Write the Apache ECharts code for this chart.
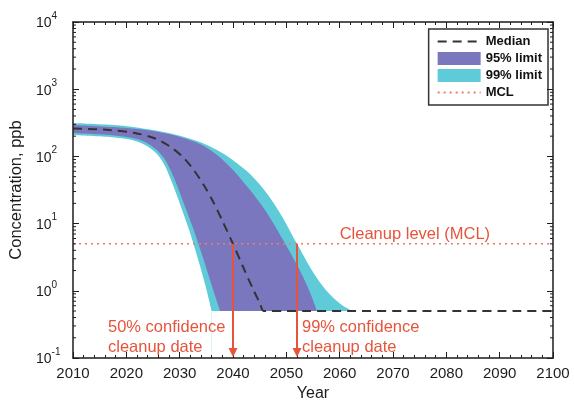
<!DOCTYPE html>
<html>
<head>
<meta charset="utf-8">
<script src="https://cdn.jsdelivr.net/npm/echarts@6/dist/echarts.min.js"></script>
<style>
  html, body { margin: 0; padding: 0; background: #ffffff; }
  #chart { width: 574px; height: 401px; }
</style>
</head>
<body>
<div id="chart"></div>
<script>
// Forecast of groundwater concentration (ppb, log scale) with uncertainty bands.

// Median forecast
const medianYears = [2010, 2016.9, 2021.6, 2025.4, 2028.2, 2030.6, 2032.5, 2034.4, 2036.3, 2038.1, 2040, 2041.9, 2043.75, 2045.1, 2045.8, 2100];
const medianPpb   = [260, 247, 223, 185, 140, 98, 65, 38.8, 21, 10.6, 5.0, 2.26, 1.06, 0.64, 0.5, 0.5];

// 99% band, upper and lower edges
const upper99Years = [2010, 2018.8, 2024.4, 2029.1, 2033.8, 2037, 2040, 2043.2, 2046, 2048.8, 2052, 2055, 2057.4, 2060.1, 2062.3];
const upper99Ppb   = [314, 288, 251, 212, 164, 124, 88, 54.7, 30.5, 14.4, 5.0, 1.9, 1.03, 0.64, 0.5];
const lower99Years = [2010, 2016.9, 2020.7, 2023.5, 2025.75, 2027.25, 2028.75, 2030.25, 2031.9, 2033.6, 2034.9, 2036];
const lower99Ppb   = [208, 194, 178, 148, 109, 72, 37.5, 17.7, 7.5, 2.68, 1.14, 0.5];

// 95% band, upper and lower edges
const upper95Years = [2010, 2018.8, 2024.4, 2029.1, 2033.8, 2037, 2040, 2043.2, 2046, 2049.4, 2052.6, 2054.4, 2055.75];
const upper95Ppb   = [293, 269, 243, 205, 153, 105, 63, 31.6, 15.9, 5.7, 1.97, 0.96, 0.5];
const lower95Years = [2010, 2016.9, 2020.7, 2023.5, 2025.75, 2027.4, 2029.1, 2030.75, 2032.5, 2034.4, 2036.1, 2037.6];
const lower95Ppb   = [223, 208, 191, 164, 124, 85.4, 44.6, 20.3, 8.6, 3.08, 1.14, 0.5];

// Cleanup level, reporting floor and annotated cleanup dates
const mclPpb = 5;
const mclYears = [2010, 2100];
const floorPpb = 0.5;
const cleanupYears = [2040, 2052];
const cleanupNotes = ['50% confidence\ncleanup date', '99% confidence\ncleanup date'];
const mclNote = 'Cleanup level (MCL)';
const mclNoteYear = 2060;

// Axis ranges
const yearMin = 2010, yearMax = 2100, yearStep = 10;
const ppbMin = 0.1, ppbMax = 10000;

function pairs(xs, ys) { return xs.map((x, i) => [x, ys[i]]); }

const FONT = '"Liberation Sans", Arial, Helvetica, sans-serif';
const INK = '#1c1c1c';
const PURPLE = '#7a77bf';
const CYAN = '#5fcbd8';
const RED = '#e6543c';
const MCL_COLOR = '#ef7c60';
const NOTE_FONT = '16.5px ' + FONT;

// minor log ticks at 2..9 x 10^k
const minorTickPpb = [];
for (let k = -1; k < 4; k++) {
  for (let m = 2; m < 10; m++) minorTickPpb.push(m * Math.pow(10, k));
}

const chart = echarts.init(document.getElementById('chart'), null, { renderer: 'canvas' });

const frameLine = { show: true, lineStyle: { color: INK, width: 1.5 } };

function yearAxis(pos) {
  const bottom = pos === 'bottom';
  return {
    type: 'value', position: pos, min: yearMin, max: yearMax, interval: yearStep, z: 10,
    axisLine: frameLine,
    axisTick: { show: true, inside: true, length: 6, lineStyle: { color: INK, width: 1 } },
    minorTick: { show: true, splitNumber: 5, length: 3, lineStyle: { color: INK, width: 1 } },
    splitLine: { show: false }, minorSplitLine: { show: false },
    axisLabel: { show: bottom, fontSize: 15, color: INK, margin: 8, fontFamily: FONT, formatter: v => String(v) },
    name: bottom ? 'Year' : '', nameLocation: 'middle', nameGap: 28,
    nameTextStyle: { fontSize: 16, color: INK, fontFamily: FONT }
  };
}

function ppbAxis(pos) {
  const left = pos === 'left';
  return {
    type: 'log', logBase: 10, position: pos, min: ppbMin, max: ppbMax, z: 10,
    axisLine: frameLine,
    axisTick: { show: true, inside: true, length: 6, lineStyle: { color: INK, width: 1 } },
    splitLine: { show: false },
    axisLabel: {
      show: left, margin: 37, align: 'left', color: INK, fontFamily: FONT,
      formatter: v => '{b|10}{s|' + Math.round(Math.log10(v)) + '}',
      rich: {
        b: { fontSize: 14, lineHeight: 24, color: INK, fontFamily: FONT, verticalAlign: 'middle', padding: [3, 0, 0, 0] },
        s: { fontSize: 10, lineHeight: 10, color: INK, fontFamily: FONT, verticalAlign: 'top', padding: [1, 0, 0, 0] }
      }
    },
    name: left ? 'Concentration, ppb' : '', nameLocation: 'middle', nameGap: 45,
    nameTextStyle: { fontSize: 16.5, color: INK, fontFamily: FONT }
  };
}

function areaEdge(name, data, fill, z, smooth) {
  return {
    name, type: 'line', data, z,
    color: fill, smooth, symbol: 'none', silent: true,
    lineStyle: { width: 0, color: fill },
    itemStyle: { color: fill },
    areaStyle: { color: fill, opacity: 1, origin: 'start' }
  };
}

const floorStart = lower99Years[lower99Years.length - 1];

const option = {
  animation: false,
  backgroundColor: '#ffffff',
  textStyle: { fontFamily: FONT },
  grid: { left: 73, right: 21, top: 22, bottom: 43, outerBoundsMode: 'none', containLabel: false },
  legend: {
    orient: 'vertical', right: 26, top: 29,
    padding: [6, 6, 6, 8],
    borderColor: '#333333', borderWidth: 1.5, backgroundColor: '#ffffff',
    itemWidth: 43, itemHeight: 13, itemGap: 4,
    textStyle: { fontSize: 13, fontWeight: 'bold', color: '#111111', fontFamily: FONT },
    data: [
      { name: 'Median', itemStyle: { opacity: 0 } },
      { name: '95% limit', icon: 'rect' },
      { name: '99% limit', icon: 'rect' },
      { name: 'MCL', itemStyle: { opacity: 0 } }
    ]
  },
  xAxis: [yearAxis('bottom'), yearAxis('top')],
  yAxis: [ppbAxis('left'), ppbAxis('right')],
  series: [
    areaEdge('99% limit', pairs(upper99Years, upper99Ppb), CYAN, 2, 0.3),
    areaEdge('95% limit', pairs(upper95Years, upper95Ppb), PURPLE, 3, 0.3),
    // between the 95% and 99% lower edges
    areaEdge('95% lower', pairs(lower95Years, lower95Ppb), CYAN, 4, 0.3),
    // clear everything under the 99% lower edge and under the reporting floor
    areaEdge('99% lower', pairs(lower99Years, lower99Ppb), '#ffffff', 5, 0.3),
    areaEdge('floor', [[floorStart, floorPpb], [yearMax, floorPpb]], '#ffffff', 5, false),
    {
      name: 'Median', type: 'line', data: pairs(medianYears, medianPpb), z: 7,
      color: '#333333', smooth: 0.3, symbol: 'none', silent: true,
      lineStyle: { color: '#333333', width: 2, type: [9, 6] }
    },
    {
      name: 'MCL', type: 'line', data: mclYears.map(y => [y, mclPpb]), z: 8,
      color: MCL_COLOR, symbol: 'none', silent: true,
      lineStyle: { color: MCL_COLOR, width: 1.5, type: [2, 4] }
    },
    {
      // minor log ticks on both side frames
      type: 'custom', z: 12, silent: true, clip: false,
      data: minorTickPpb.map(v => [yearMin, v]),
      renderItem: (params, api) => {
        const v = api.value(1);
        const l = api.coord([yearMin, v]);
        const r = api.coord([yearMax, v]);
        return {
          type: 'group', children: [
            { type: 'line', shape: { x1: l[0], y1: l[1], x2: l[0] + 3, y2: l[1] }, style: { stroke: INK, lineWidth: 1 } },
            { type: 'line', shape: { x1: r[0] - 3, y1: r[1], x2: r[0], y2: r[1] }, style: { stroke: INK, lineWidth: 1 } }
          ]
        };
      }
    },
    {
      // cleanup-date arrows with their notes
      type: 'custom', z: 15, silent: true, clip: false,
      data: cleanupYears.map(y => [y, mclPpb]),
      renderItem: (params, api) => {
        const yr = api.value(0);
        const top = api.coord([yr, api.value(1)]);
        const base = api.coord([yr, ppbMin]);
        const floor = api.coord([yr, floorPpb]);
        const i = params.dataIndex;
        const head = 10, half = 4.5;
        return {
          type: 'group', children: [
            { type: 'line', shape: { x1: top[0], y1: top[1], x2: base[0], y2: base[1] - head + 1 },
              style: { stroke: RED, lineWidth: 2 } },
            { type: 'polygon', shape: { points: [[base[0] - half, base[1] - head], [base[0] + half, base[1] - head], [base[0], base[1] - 1]] },
              style: { fill: RED } },
            { type: 'text', x: i === 0 ? top[0] - 125 : top[0] + 5, y: floor[1] + 6,
              style: { text: cleanupNotes[i], fill: RED, font: NOTE_FONT, align: 'left', verticalAlign: 'top', lineHeight: 20 } }
          ]
        };
      }
    },
    {
      // cleanup level caption
      type: 'custom', z: 15, silent: true, clip: false,
      data: [[mclNoteYear, mclPpb]],
      renderItem: (params, api) => {
        const p = api.coord([api.value(0), api.value(1)]);
        return {
          type: 'text', x: p[0], y: p[1] - 9,
          style: { text: mclNote, fill: RED, font: NOTE_FONT, align: 'left', verticalAlign: 'middle' }
        };
      }
    }
  ]
};

chart.setOption(option);
</script>
</body>
</html>
